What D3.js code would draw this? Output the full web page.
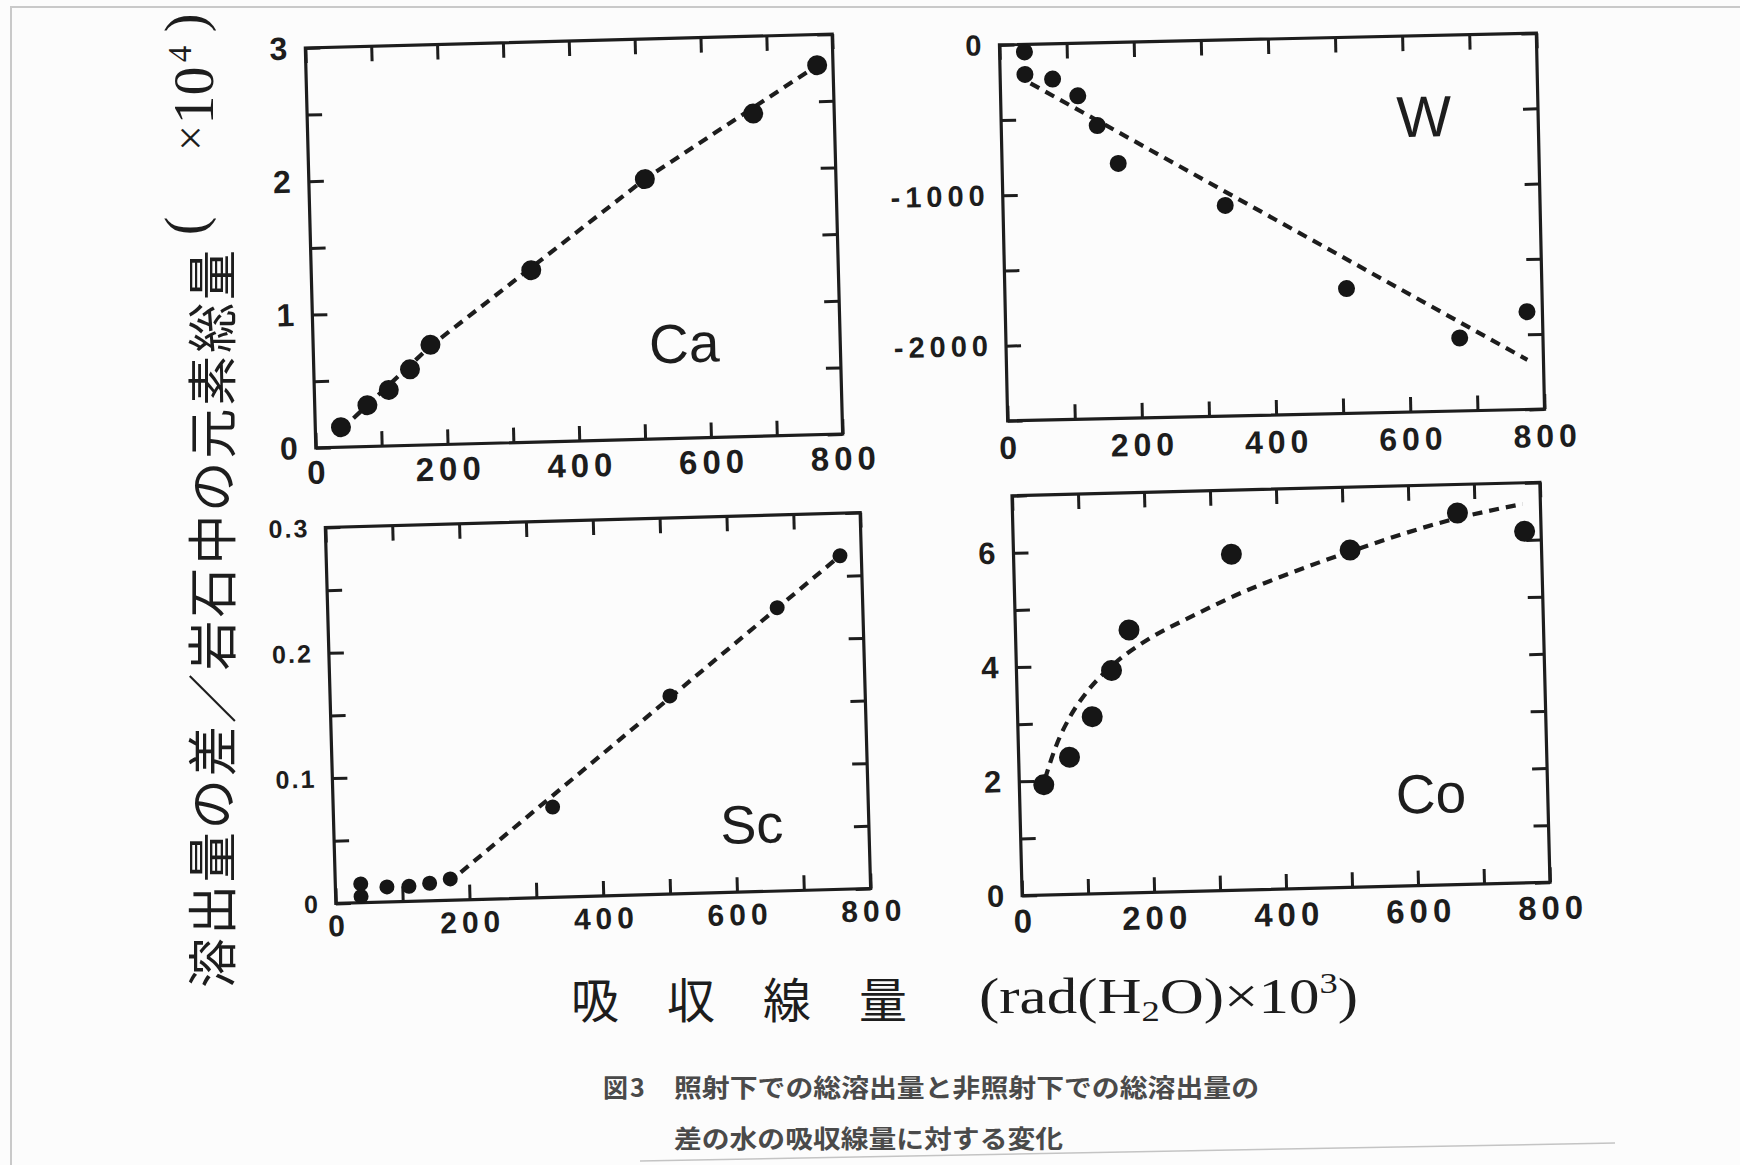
<!DOCTYPE html>
<html>
<head>
<meta charset="utf-8">
<script src="https://cdn.jsdelivr.net/npm/d3@7"></script>
<style>
  html, body { margin: 0; padding: 0; background: #fcfcfc; }
  svg { display: block; }
</style>
</head>
<body>
<svg id="fig" width="1740" height="1165"></svg>
<script>
// Absorbed dose axis, rad(H2O) x 10^3
const doseTicks = [0, 100, 200, 300, 400, 500, 600, 700, 800];
const doseLabels = [0, 200, 400, 600, 800];

// Ca
const caDose = [39, 80, 113, 146, 178, 334, 510, 677, 776];
const caValue = [0.15, 0.31, 0.42, 0.57, 0.75, 1.29, 1.95, 2.42, 2.77];
const caFitDose = [39, 178, 510, 770];
const caFitValue = [0.13, 0.74, 1.95, 2.75];
const caTicks = [0, 0.5, 1, 1.5, 2, 2.5, 3];
const caLabels = [0, 1, 2, 3];

// W
const wDose = [37, 37, 78, 115, 143, 173, 331, 509, 676, 777];
const wValue = [-50, -200, -235, -350, -550, -805, -1100, -1670, -2015, -1850];
const wFitDose = [45, 776];
const wFitValue = [-260, -2170];
const wTicks = [-2500, -2000, -1500, -1000, -500, 0];
const wLabels = [-2000, -1000, 0];

// Sc
const scDose = [38, 38, 77, 110, 141, 172, 328, 508, 672, 768];
const scValue = [0.015, 0.005, 0.012, 0.012, 0.014, 0.017, 0.072, 0.158, 0.226, 0.266];
const scFitDose = [188, 768];
const scFitValue = [0.022, 0.266];
const scTicks = [0, 0.05, 0.1, 0.15, 0.2, 0.25, 0.3];
const scLabels = [0, 0.1, 0.2, 0.3];

// Co
const coDose = [37, 77, 113, 144, 172, 330, 510, 674, 775];
const coValue = [1.93, 2.4, 3.1, 3.9, 4.6, 5.88, 5.9, 6.5, 6.15];
const coFitDose = [39, 57, 79, 107, 149, 204, 266, 335, 403, 509, 670, 773];
const coFitValue = [2.03, 2.6, 3.1, 3.55, 4.02, 4.45, 4.8, 5.16, 5.46, 5.87, 6.4, 6.63];
const coTicks = [0, 1, 2, 3, 4, 5, 6, 7];
const coLabels = [0, 2, 4, 6];

const ink = '#1d1d1d';
const sans = '"Liberation Sans", Arial, sans-serif';
const serif = '"Liberation Serif", "Times New Roman", serif';
const cjk = '"Noto Sans CJK JP", "Noto Sans CJK SC", sans-serif';

const panels = [
  { name: 'Ca', dose: caDose, value: caValue, fitDose: caFitDose, fitValue: caFitValue,
    yDomain: [0, 3], yTicks: caTicks, yLabels: caLabels, curve: d3.curveLinear,
    cx: 574, cy: 241, w: 527, h: 400, angle: -1.5, r: 10,
    nameAt: [563, 0.71], nameSize: 55, yFont: 32, yLs: 0, xFont: 33, xLs: 5, xBase: 36 },
  { name: 'W', dose: wDose, value: wValue, fitDose: wFitDose, fitValue: wFitValue,
    yDomain: [-2500, 0], yTicks: wTicks, yLabels: wLabels, curve: d3.curveLinear,
    cx: 1272, cy: 227, w: 537, h: 376, angle: -1.25, r: 8.5,
    nameAt: [630, -535], nameSize: 58, yFont: 29, yLs: 5, xFont: 32, xLs: 5, xBase: 38 },
  { name: 'Sc', dose: scDose, value: scValue, fitDose: scFitDose, fitValue: scFitValue,
    yDomain: [0, 0.3], yTicks: scTicks, yLabels: scLabels, curve: d3.curveLinear,
    cx: 598, cy: 708, w: 535, h: 376, angle: -1.6, r: 7.5,
    nameAt: [625, 0.054], nameSize: 54, yFont: 25, yLs: 2, xFont: 30, xLs: 5, xBase: 33 },
  { name: 'Co', dose: coDose, value: coValue, fitDose: coFitDose, fitValue: coFitValue,
    yDomain: [0, 7], yTicks: coTicks, yLabels: coLabels, curve: d3.curveMonotoneX,
    cx: 1281, cy: 689, w: 528, h: 400, angle: -1.45, r: 10.5,
    nameAt: [623, 1.6], nameSize: 55, yFont: 31, yLs: 0, xFont: 33, xLs: 5, xBase: 37 }
];

const svg = d3.select('#fig');

// paper
svg.append('rect').attr('width', 1740).attr('height', 1165).attr('fill', '#fcfcfc');
svg.append('path').attr('d', 'M11,1165 L11,7 L1740,7')
  .attr('fill', 'none').attr('stroke', '#c9c9c9').attr('stroke-width', 2);
svg.append('line').attr('x1', 640).attr('y1', 1161).attr('x2', 1615).attr('y2', 1143)
  .attr('stroke', '#c4c4c4').attr('stroke-width', 1.5);

const tickLen = 15;

function styleAxis(sel) {
  sel.select('.domain').remove();
  sel.selectAll('line').attr('stroke', ink).attr('stroke-width', 3);
  sel.selectAll('text').remove();
}

function drawPanel(p) {
  const g = svg.append('g')
    .attr('transform', `translate(${p.cx},${p.cy}) rotate(${p.angle})`);
  const x = d3.scaleLinear().domain([0, 800]).range([-p.w / 2, p.w / 2]);
  const y = d3.scaleLinear().domain(p.yDomain).range([p.h / 2, -p.h / 2]);

  // inward ticks on all four sides
  g.append('g').attr('transform', `translate(0,${p.h / 2})`)
    .call(d3.axisBottom(x).tickValues(doseTicks).tickSizeInner(-tickLen).tickSizeOuter(0))
    .call(styleAxis);
  g.append('g').attr('transform', `translate(0,${-p.h / 2})`)
    .call(d3.axisTop(x).tickValues(doseTicks).tickSizeInner(-tickLen).tickSizeOuter(0))
    .call(styleAxis);
  g.append('g').attr('transform', `translate(${-p.w / 2},0)`)
    .call(d3.axisLeft(y).tickValues(p.yTicks).tickSizeInner(-tickLen).tickSizeOuter(0))
    .call(styleAxis);
  g.append('g').attr('transform', `translate(${p.w / 2},0)`)
    .call(d3.axisRight(y).tickValues(p.yTicks).tickSizeInner(-tickLen).tickSizeOuter(0))
    .call(styleAxis);

  // frame
  g.append('rect')
    .attr('x', -p.w / 2).attr('y', -p.h / 2).attr('width', p.w).attr('height', p.h)
    .attr('fill', 'none').attr('stroke', ink).attr('stroke-width', 3.2);

  // dose labels
  g.append('g').selectAll('text').data(doseLabels).join('text')
    .attr('x', d => x(d)).attr('y', p.h / 2 + p.xBase)
    .attr('dx', p.xLs / 2)
    .attr('text-anchor', 'middle')
    .attr('font-family', sans).attr('font-weight', 'bold')
    .attr('font-size', p.xFont).attr('letter-spacing', p.xLs)
    .attr('fill', ink)
    .text(d => String(d));

  // value labels
  g.append('g').selectAll('text').data(p.yLabels).join('text')
    .attr('x', -p.w / 2 - 18 + p.yLs).attr('y', d => y(d))
    .attr('text-anchor', 'end').attr('dominant-baseline', 'central')
    .attr('font-family', sans).attr('font-weight', 'bold')
    .attr('font-size', p.yFont).attr('letter-spacing', p.yLs)
    .attr('fill', ink)
    .text(d => String(d));

  // fitted trend
  const fit = p.fitDose.map((d, i) => [d, p.fitValue[i]]);
  g.append('path').datum(fit)
    .attr('d', d3.line().x(d => x(d[0])).y(d => y(d[1])).curve(p.curve))
    .attr('fill', 'none').attr('stroke', ink).attr('stroke-width', 4.2)
    .attr('stroke-dasharray', '10,7');

  // measured points
  g.append('g').selectAll('circle').data(p.dose.map((d, i) => [d, p.value[i]])).join('circle')
    .attr('cx', d => x(d[0])).attr('cy', d => y(d[1])).attr('r', p.r)
    .attr('fill', '#161616');

  // element symbol
  g.append('text')
    .attr('x', x(p.nameAt[0])).attr('y', y(p.nameAt[1]))
    .attr('text-anchor', 'middle').attr('dominant-baseline', 'central')
    .attr('font-family', sans).attr('font-size', p.nameSize).attr('fill', ink)
    .text(p.name);
}

panels.forEach(drawPanel);

// vertical axis title (reads bottom to top)
const yt = svg.append('g').attr('transform', 'rotate(-90)').attr('fill', ink);
yt.append('text')
  .attr('x', -988).attr('y', 231)
  .attr('font-family', cjk).attr('font-size', 50)
  .attr('textLength', 738).attr('lengthAdjust', 'spacing')
  .text('溶出量の差／岩石中の元素総量');
const ySuffix = [
  { t: '(', c: 226, base: 204, size: 56 },
  { t: '×', c: 138, base: 206, size: 46 },
  { t: '1', c: 110, base: 213, size: 58 },
  { t: '0', c: 81, base: 213, size: 58 },
  { t: '4', c: 54, base: 191, size: 33 },
  { t: ')', c: 23, base: 204, size: 56 }
];
yt.append('text').attr('font-family', serif).attr('text-anchor', 'middle')
  .selectAll('tspan').data(ySuffix).join('tspan')
  .attr('x', d => -d.c).attr('y', d => d.base)
  .attr('font-size', d => d.size)
  .text(d => d.t);

// horizontal axis title
svg.append('text')
  .attr('x', 571).attr('y', 1018)
  .attr('font-family', cjk).attr('font-size', 48).attr('fill', ink)
  .text('吸　収　線　量');
const xt = svg.append('text')
  .attr('x', 979).attr('y', 1013)
  .attr('font-family', serif).attr('font-size', 50).attr('fill', ink)
  .attr('textLength', 379).attr('lengthAdjust', 'spacingAndGlyphs');
xt.append('tspan').text('(rad(H');
xt.append('tspan').attr('font-size', 30).attr('dy', 8).text('2');
xt.append('tspan').attr('dy', -8).text('O)×10');
xt.append('tspan').attr('font-size', 30).attr('dy', -20).text('3');
xt.append('tspan').attr('dy', 20).text(')');

// caption
const cap = svg.append('g')
  .attr('font-family', cjk).attr('font-weight', 'bold').attr('font-size', 25).attr('fill', '#4a4a4a');
cap.append('text').attr('x', 603).attr('y', 1097).attr('letter-spacing', 2).text('図3');
cap.append('text').attr('x', 674).attr('y', 1097)
  .attr('textLength', 585).attr('lengthAdjust', 'spacingAndGlyphs')
  .text('照射下での総溶出量と非照射下での総溶出量の');
cap.append('text').attr('x', 674).attr('y', 1148)
  .attr('textLength', 389).attr('lengthAdjust', 'spacingAndGlyphs')
  .text('差の水の吸収線量に対する変化');
</script>
</body>
</html>
